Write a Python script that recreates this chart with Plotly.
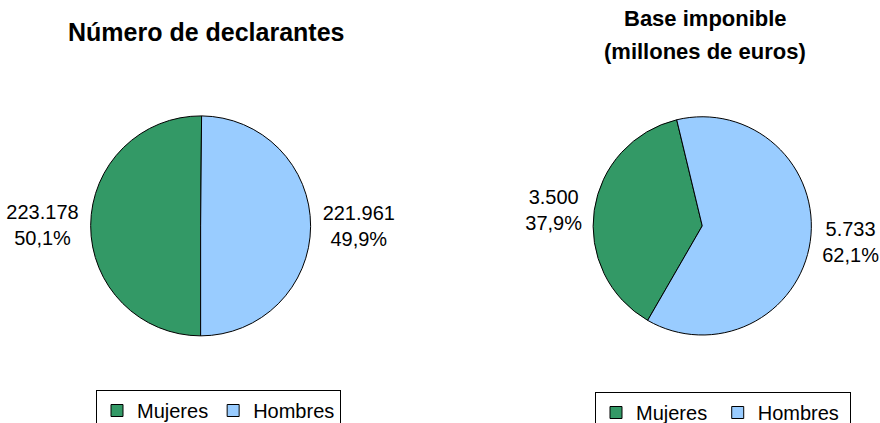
import plotly.graph_objects as go

categories = ["Mujeres", "Hombres"]
declarantes = [223178, 221961]
base_imponible = [3500, 5733]
colors = ["#339966", "#99CCFF"]
title1 = "<b>Número de declarantes</b>"
title2a = "<b>Base imponible</b>"
title2b = "<b>(millones de euros)</b>"

FONT = "Liberation Sans, Arial, sans-serif"

# pie legends merge identical labels across traces; a trailing space keeps
# the second chart's own legend entries distinct (renders identically)
categories2 = [c + " " for c in categories]

fig = go.Figure()

fig.add_trace(go.Pie(
    labels=categories, values=declarantes, sort=False,
    direction="clockwise", rotation=180,
    marker=dict(colors=colors, line=dict(color="#000000", width=1)),
    texttemplate="%{value:,.0f}<br>%{percent:.1%}",
    textposition="outside",
    outsidetextfont=dict(family=FONT, size=20, color="#000000"),
    domain=dict(x=[0.103, 0.353], y=[0.206, 0.726]),
    legend="legend", hoverinfo="label+value+percent",
))

fig.add_trace(go.Pie(
    labels=categories2, values=base_imponible, sort=False,
    direction="clockwise", rotation=-150,
    marker=dict(colors=colors, line=dict(color="#000000", width=1)),
    texttemplate="%{value:,.0f}<br>%{percent:.1%}",
    textposition="outside",
    outsidetextfont=dict(family=FONT, size=20, color="#000000"),
    domain=dict(x=[0.674, 0.922], y=[0.208, 0.724]),
    legend="legend2", hoverinfo="label+value+percent",
))

fig.update_layout(
    width=880, height=423,
    margin=dict(l=0, r=0, t=0, b=0, autoexpand=False),
    paper_bgcolor="white", plot_bgcolor="white",
    separators=",.",
    font=dict(family=FONT, size=20, color="#000000"),
    legend=dict(orientation="h", x=96/880, xanchor="left", y=1-390/423, yanchor="top",
                bordercolor="#000000", borderwidth=1, bgcolor="white",
                font=dict(family=FONT, size=20, color="#000000"), itemwidth=30),
    legend2=dict(orientation="h", x=595/880, xanchor="left", y=1-392/423, yanchor="top",
                 bordercolor="#000000", borderwidth=1, bgcolor="white",
                 font=dict(family=FONT, size=20, color="#000000"), itemwidth=30),
    annotations=[
        dict(text=title1, x=206/880, y=1-32/423, xref="paper", yref="paper",
             xanchor="center", yanchor="middle", showarrow=False,
             font=dict(family=FONT, size=25, color="#000000")),
        dict(text=title2a, x=705/880, y=1-19/423, xref="paper", yref="paper",
             xanchor="center", yanchor="middle", showarrow=False,
             font=dict(family=FONT, size=22, color="#000000")),
        dict(text=title2b, x=705/880, y=1-52/423, xref="paper", yref="paper",
             xanchor="center", yanchor="middle", showarrow=False,
             font=dict(family=FONT, size=22, color="#000000")),
    ],
)

fig.write_html("out.html", config={"displayModeBar": False},
               post_script="document.body.style.margin='0';document.body.style.overflow='hidden';")
